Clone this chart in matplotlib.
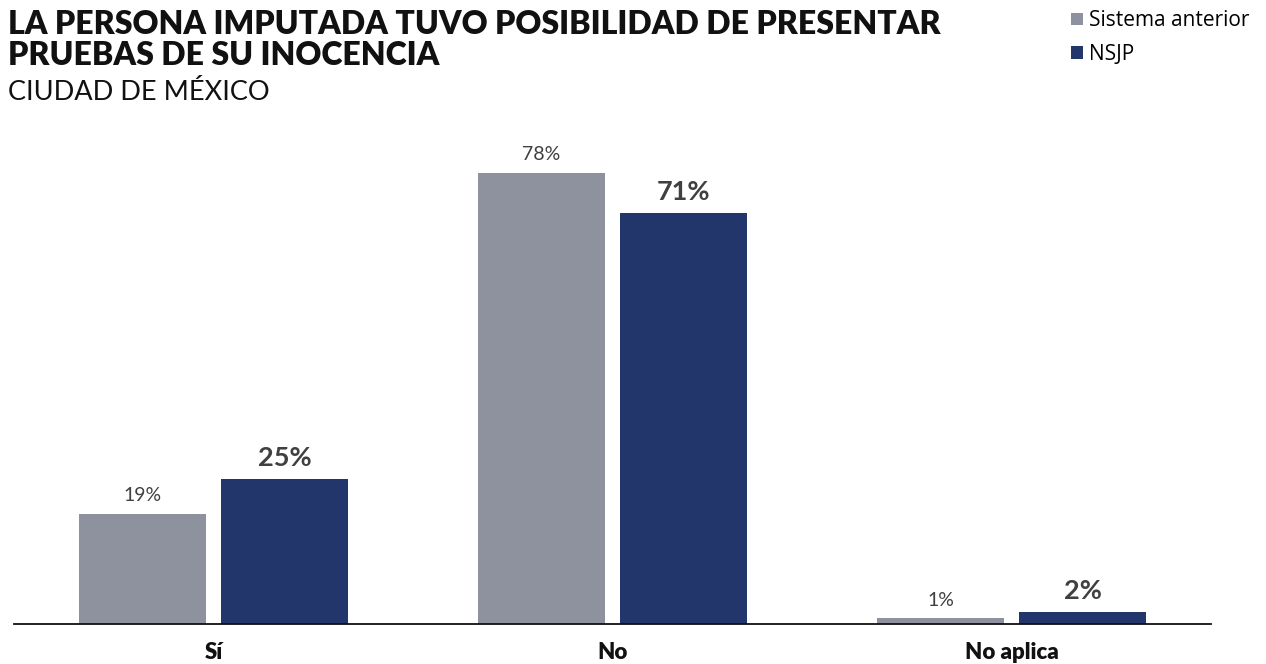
import matplotlib.pyplot as plt
import numpy as np

plt.rcParams['font.family'] = ['Lato', 'DejaVu Sans']

categorias = ['Sí', 'No', 'No aplica']
sistema_anterior = [19, 78, 1]
nsjp = [25, 71, 2]
series = ['Sistema anterior', 'NSJP']

gris = '#8e929f'
azul = '#22366c'
texto = '#404040'

fig = plt.figure(figsize=(12.66, 6.64), dpi=100)
ax = fig.add_axes([0.0111, 0.0602, 0.9455, 0.697])

x = np.arange(len(categorias))
ancho = 0.32
desp = 0.178

b1 = ax.bar(x - desp, sistema_anterior, width=ancho, color=gris, label=series[0])
b2 = ax.bar(x + desp, nsjp, width=ancho, color=azul, label=series[1])

# etiquetas de valor sobre cada barra
for rect, v in zip(b1, sistema_anterior):
    ax.annotate(f'{v}%', (rect.get_x() + rect.get_width() / 2, v),
                xytext=(0, 7), textcoords='offset points', ha='center', va='bottom',
                fontsize=14, color=texto)
for rect, v in zip(b2, nsjp):
    ax.annotate(f'{v}%', (rect.get_x() + rect.get_width() / 2, v),
                xytext=(0, 7), textcoords='offset points', ha='center', va='bottom',
                fontsize=19.5, fontweight='bold', color=texto)

ax.set_xlim(-0.5, 2.5)
ax.set_ylim(0, 80)
ax.set_xticks(x)
ax.set_xticklabels(categorias, fontsize=16, fontweight='heavy', color='#111111')
ax.tick_params(axis='x', length=0, pad=13)
ax.set_yticks([])
for lado in ['top', 'right', 'left']:
    ax.spines[lado].set_visible(False)
ax.spines['bottom'].set_linewidth(1.3)
ax.spines['bottom'].set_color('#111111')

fig.text(0.0063, 0.985, 'LA PERSONA IMPUTADA TUVO POSIBILIDAD DE PRESENTAR\nPRUEBAS DE SU INOCENCIA',
         ha='left', va='top', fontsize=23, fontweight='heavy', color='#111111', linespacing=1.08)
fig.text(0.0063, 0.861, 'CIUDAD DE MÉXICO', ha='left', va='center', fontsize=19.5, color='#111111')

fig.legend(handles=[b1, b2], labels=series, loc='upper right', bbox_to_anchor=(0.995, 1.0),
           frameon=False, prop={'family': 'Open Sans', 'size': 15}, handlelength=0.55,
           handleheight=0.55, handletextpad=0.3, labelspacing=0.6, borderaxespad=0.1)

fig.savefig('out.png', dpi=100)
